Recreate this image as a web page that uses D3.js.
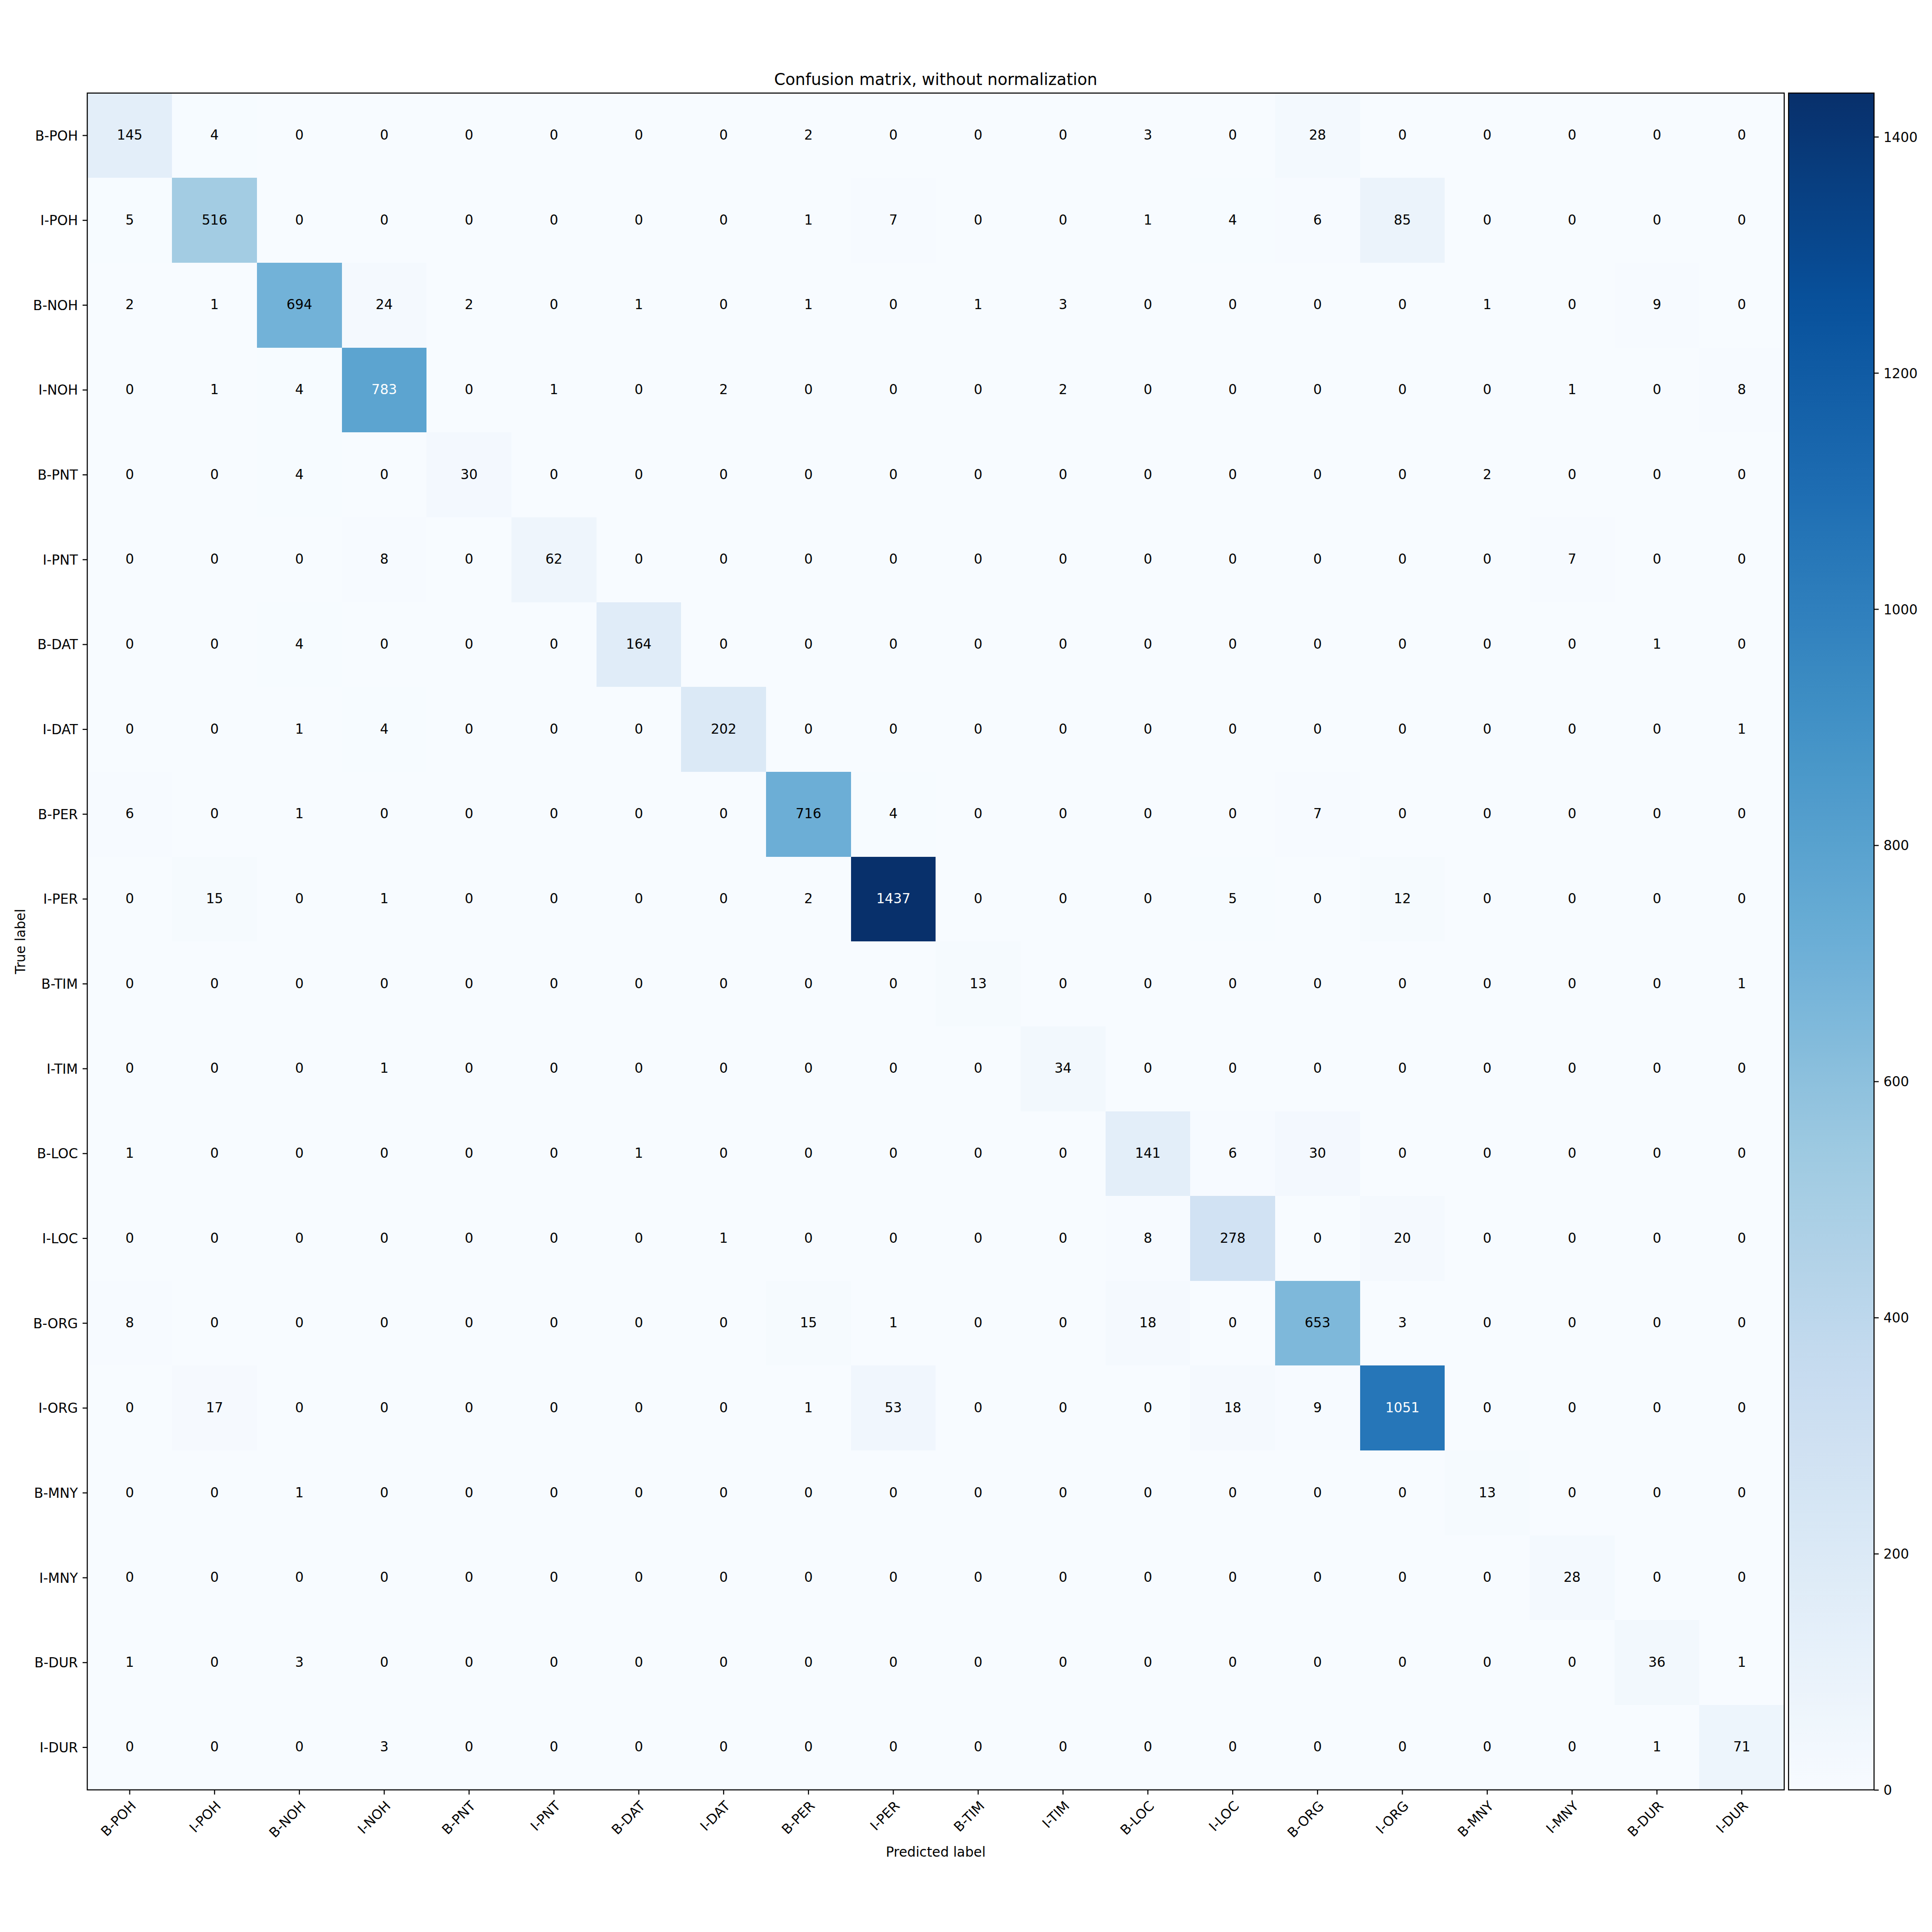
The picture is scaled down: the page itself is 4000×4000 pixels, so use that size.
<!DOCTYPE html>
<html>
<head>
<meta charset="utf-8">
<script src="https://cdn.jsdelivr.net/npm/d3@7"></script>
<style>
  html, body { margin: 0; padding: 0; background: #fff; }
  svg { display: block; }
  text { font-family: "DejaVu Sans", sans-serif; }
</style>
</head>
<body>
<script>
// ---- data ----
const labels = ["B-POH","I-POH","B-NOH","I-NOH","B-PNT","I-PNT","B-DAT","I-DAT","B-PER","I-PER",
                "B-TIM","I-TIM","B-LOC","I-LOC","B-ORG","I-ORG","B-MNY","I-MNY","B-DUR","I-DUR"];
const matrix = [
  [145,4,0,0,0,0,0,0,2,0,0,0,3,0,28,0,0,0,0,0],
  [5,516,0,0,0,0,0,0,1,7,0,0,1,4,6,85,0,0,0,0],
  [2,1,694,24,2,0,1,0,1,0,1,3,0,0,0,0,1,0,9,0],
  [0,1,4,783,0,1,0,2,0,0,0,2,0,0,0,0,0,1,0,8],
  [0,0,4,0,30,0,0,0,0,0,0,0,0,0,0,0,2,0,0,0],
  [0,0,0,8,0,62,0,0,0,0,0,0,0,0,0,0,0,7,0,0],
  [0,0,4,0,0,0,164,0,0,0,0,0,0,0,0,0,0,0,1,0],
  [0,0,1,4,0,0,0,202,0,0,0,0,0,0,0,0,0,0,0,1],
  [6,0,1,0,0,0,0,0,716,4,0,0,0,0,7,0,0,0,0,0],
  [0,15,0,1,0,0,0,0,2,1437,0,0,0,5,0,12,0,0,0,0],
  [0,0,0,0,0,0,0,0,0,0,13,0,0,0,0,0,0,0,0,1],
  [0,0,0,1,0,0,0,0,0,0,0,34,0,0,0,0,0,0,0,0],
  [1,0,0,0,0,0,1,0,0,0,0,0,141,6,30,0,0,0,0,0],
  [0,0,0,0,0,0,0,1,0,0,0,0,8,278,0,20,0,0,0,0],
  [8,0,0,0,0,0,0,0,15,1,0,0,18,0,653,3,0,0,0,0],
  [0,17,0,0,0,0,0,0,1,53,0,0,0,18,9,1051,0,0,0,0],
  [0,0,1,0,0,0,0,0,0,0,0,0,0,0,0,0,13,0,0,0],
  [0,0,0,0,0,0,0,0,0,0,0,0,0,0,0,0,0,28,0,0],
  [1,0,3,0,0,0,0,0,0,0,0,0,0,0,0,0,0,0,36,1],
  [0,0,0,3,0,0,0,0,0,0,0,0,0,0,0,0,0,0,1,71]
];
const colorbarTicks = [0,200,400,600,800,1000,1200,1400];
const titleText = "Confusion matrix, without normalization";
const xLabelText = "Predicted label";
const yLabelText = "True label";
// matplotlib "Blues" stops
const bluesStops = ["#f7fbff","#deebf7","#c6dbef","#9ecae1","#6baed6","#4292c6","#2171b5","#08519c","#08306b"];

// ---- layout ----
const W = 4000, H = 4000;
const L = 180.7, R = 3694, T = 192.7, B = 3705.7;
const cbL = 3703, cbR = 3880;
const FS = 27.8, TFS = 33.3;
const tickLen = 9.7, lw = 2.2;

const svg = d3.select("body").append("svg")
  .attr("width", W).attr("height", H)
  .attr("viewBox", `0 0 ${W} ${H}`);
svg.append("rect").attr("width", W).attr("height", H).attr("fill", "#fff");

const maxVal = d3.max(matrix.flat());
const x = d3.scaleBand().domain(labels).range([L, R]).padding(0);
const y = d3.scaleBand().domain(labels).range([T, B]).padding(0);
const stopDomain = bluesStops.map((_, i) => i / (bluesStops.length - 1));
const cmap = d3.scaleLinear().domain(stopDomain).range(bluesStops).interpolate(d3.interpolateRgb).clamp(true);
const color = v => cmap(v / maxVal);

const cells = [];
matrix.forEach((row, i) => row.forEach((v, j) => cells.push({r: labels[i], c: labels[j], v})));

// cells
svg.append("g").selectAll("rect").data(cells).join("rect")
  .attr("x", d => x(d.c))
  .attr("y", d => y(d.r))
  .attr("width", x.bandwidth() + 0.6)
  .attr("height", y.bandwidth() + 0.6)
  .attr("fill", d => color(d.v))
  .attr("shape-rendering", "crispEdges");

// cell text
svg.append("g").selectAll("text").data(cells).join("text")
  .attr("x", d => x(d.c) + x.bandwidth() / 2)
  .attr("y", d => y(d.r) + y.bandwidth() / 2 + 8.6)
  .attr("text-anchor", "middle")
  .attr("font-size", FS)
  .attr("fill", d => d.v > maxVal / 2 ? "#fff" : "#000")
  .text(d => d.v);

// frame
svg.append("rect")
  .attr("x", L).attr("y", T).attr("width", R - L).attr("height", B - T)
  .attr("fill", "none").attr("stroke", "#000").attr("stroke-width", lw);

// x axis
const xAxis = svg.append("g").attr("transform", `translate(0,${B})`)
  .call(d3.axisBottom(x).tickSize(tickLen).tickSizeOuter(0));
xAxis.select(".domain").remove();
xAxis.selectAll(".tick line").attr("stroke", "#000").attr("stroke-width", lw);
xAxis.selectAll(".tick text")
  .attr("x", 0).attr("y", 0).attr("dy", null)
  .attr("text-anchor", "end")
  .attr("font-size", FS)
  .attr("font-family", "DejaVu Sans")
  .attr("fill", "#000")
  .attr("transform", "translate(14.8,35) rotate(-45)");

// y axis
const yAxis = svg.append("g").attr("transform", `translate(${L},0)`)
  .call(d3.axisLeft(y).tickSize(tickLen).tickPadding(tickLen).tickSizeOuter(0));
yAxis.select(".domain").remove();
yAxis.selectAll(".tick line").attr("stroke", "#000").attr("stroke-width", lw);
yAxis.selectAll(".tick text")
  .attr("dy", "0.36em")
  .attr("font-size", FS)
  .attr("font-family", "DejaVu Sans")
  .attr("fill", "#000");

// colorbar
const cbScale = d3.scaleLinear().domain([0, maxVal]).range([B, T]);
const defs = svg.append("defs");
const grad = defs.append("linearGradient").attr("id", "cbgrad")
  .attr("x1", 0).attr("y1", 1).attr("x2", 0).attr("y2", 0);
d3.range(0, 1.0001, 0.02).forEach(t => {
  grad.append("stop").attr("offset", t).attr("stop-color", cmap(t));
});
svg.append("rect")
  .attr("x", cbL).attr("y", T).attr("width", cbR - cbL).attr("height", B - T)
  .attr("fill", "url(#cbgrad)")
  .attr("stroke", "#000").attr("stroke-width", lw);
const cbAxis = svg.append("g").attr("transform", `translate(${cbR},0)`)
  .call(d3.axisRight(cbScale).tickValues(colorbarTicks).tickFormat(d3.format("d"))
        .tickSize(tickLen).tickPadding(tickLen).tickSizeOuter(0));
cbAxis.select(".domain").remove();
cbAxis.selectAll(".tick line").attr("stroke", "#000").attr("stroke-width", lw);
cbAxis.selectAll(".tick text")
  .attr("dy", "0.36em")
  .attr("font-size", FS)
  .attr("font-family", "DejaVu Sans")
  .attr("fill", "#000");

// title and labels
svg.append("text")
  .attr("x", (L + R) / 2).attr("y", 176)
  .attr("text-anchor", "middle").attr("font-size", TFS)
  .text(titleText);
svg.append("text")
  .attr("x", (L + R) / 2).attr("y", 3844)
  .attr("text-anchor", "middle").attr("font-size", FS)
  .text(xLabelText);
svg.append("text")
  .attr("transform", `translate(51.7,${(T + B) / 2}) rotate(-90)`)
  .attr("text-anchor", "middle").attr("font-size", FS)
  .text(yLabelText);
</script>
</body>
</html>
